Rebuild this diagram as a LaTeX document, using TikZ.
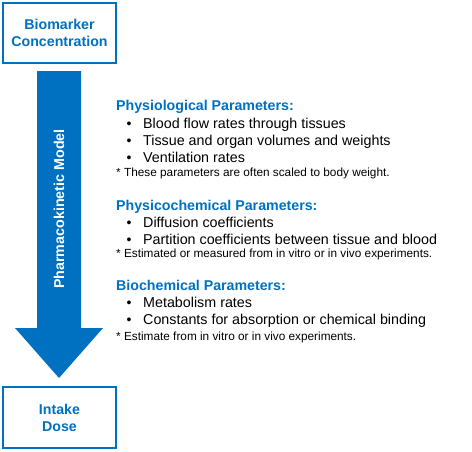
\documentclass[tikz,border=0pt]{standalone}
\usepackage{fontspec}
\setmainfont{Liberation Sans}
\definecolor{pblue}{HTML}{0070C0}
\begin{document}
\begin{tikzpicture}[x=1pt,y=1pt,
  boxst/.style={draw=pblue,line width=2pt,fill=white,minimum width=113pt,minimum height=60pt,inner sep=0pt,
    align=center,text=pblue,font=\fontsize{14.2}{17}\selectfont\bfseries},
  headst/.style={anchor=base west,inner sep=0pt,text=pblue,font=\fontsize{14.2}{17}\selectfont\bfseries},
  itemst/.style={anchor=base west,inner sep=0pt,font=\fontsize{14.3}{17}\selectfont},
  bulst/.style={anchor=base,inner sep=0pt,font=\fontsize{14}{17}\selectfont},
  notest/.style={anchor=base west,inner sep=0pt,font=\fontsize{11.8}{14}\selectfont}]
\useasboundingbox (0,0) rectangle (472,-451);
% boxes
\node[boxst] (top) at (59.5,-33) {Biomarker\\Concentration};
\node[boxst,minimum height=61pt] (bot) at (59.5,-417.5) {Intake\\Dose};
% arrow
\fill[pblue] (37,-71) -- (81,-71) -- (81,-328) -- (103,-328) -- (59,-378) -- (15,-328) -- (37,-328) -- cycle;
\node[rotate=90,text=white,font=\fontsize{14.3}{17}\selectfont\bfseries] (pk) at (59,-209) {Pharmacokinetic Model};
% section 1
\node[headst] (h1) at (116,-110) {Physiological Parameters:};
\node[bulst] (b11) at (129,-128) {•};
\node[itemst] (t11) at (143,-128) {Blood flow rates through tissues};
\node[bulst] (b12) at (129,-145) {•};
\node[itemst] (t12) at (143,-145) {Tissue and organ volumes and weights};
\node[bulst] (b13) at (129,-162) {•};
\node[itemst] (t13) at (143,-162) {Ventilation rates};
\node[notest] (n1) at (116,-176) {* These parameters are often scaled to body weight.};
% section 2
\node[headst] (h2) at (116,-210) {Physicochemical Parameters:};
\node[bulst] (b21) at (129,-227) {•};
\node[itemst] (t21) at (143,-227) {Diffusion coefficients};
\node[bulst] (b22) at (129,-244) {•};
\node[itemst] (t22) at (143,-244) {Partition coefficients between tissue and blood};
\node[notest] (n2) at (116,-257) {* Estimated or measured from in vitro or in vivo experiments.};
% section 3
\node[headst] (h3) at (116,-290) {Biochemical Parameters:};
\node[bulst] (b31) at (129,-307) {•};
\node[itemst] (t31) at (143,-307) {Metabolism rates};
\node[bulst] (b32) at (129,-324) {•};
\node[itemst] (t32) at (143,-324) {Constants for absorption or chemical binding};
\node[notest] (n3) at (116,-340) {* Estimate from in vitro or in vivo experiments.};
\end{tikzpicture}
\end{document}
